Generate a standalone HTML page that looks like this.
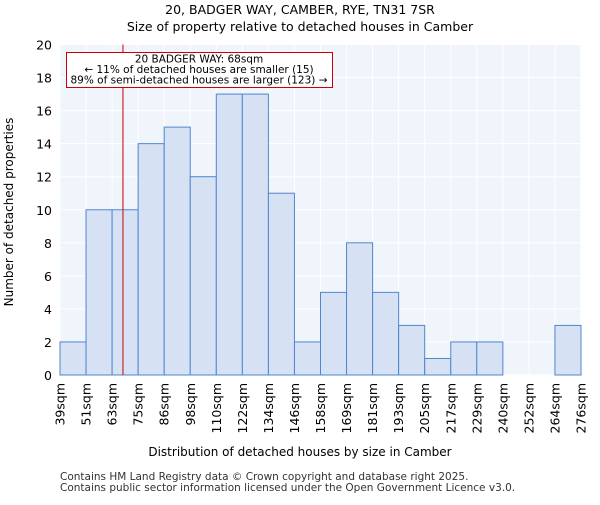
<!DOCTYPE html>
<html><head><meta charset="utf-8"><style>body{margin:0;background:#fff}svg text{font-family:"DejaVu Sans","Liberation Sans",sans-serif}</style></head>
<body>
<svg id="c" width="600" height="500" xmlns="http://www.w3.org/2000/svg">
<text x="300" y="14" font-size="12.5" text-anchor="middle">20, BADGER WAY, CAMBER, RYE, TN31 7SR</text>
<text x="300" y="31" font-size="12.5" text-anchor="middle">Size of property relative to detached houses in Camber</text>
<g id="grid"></g><g id="bars"></g><g id="axes"></g>
<text x="300" y="456" font-size="12" text-anchor="middle">Distribution of detached houses by size in Camber</text>
<text transform="translate(13,212) rotate(-90)" font-size="12" text-anchor="middle">Number of detached properties</text>
<text x="60" y="480" font-size="10.5" fill="#333">Contains HM Land Registry data © Crown copyright and database right 2025.</text>
<text x="60" y="491" font-size="10.5" fill="#333">Contains public sector information licensed under the Open Government Licence v3.0.</text>
</svg>
<script>
const categories=["39sqm","51sqm","63sqm","75sqm","86sqm","98sqm","110sqm","122sqm","134sqm","146sqm","158sqm","169sqm","181sqm","193sqm","205sqm","217sqm","229sqm","240sqm","252sqm","264sqm","276sqm"];
const counts=[2,10,10,14,15,12,17,17,11,2,5,8,5,3,1,2,2,0,0,3];
const yTicks=[0,2,4,6,8,10,12,14,16,18,20];
const markerValue=68;
const edgeValues=[39,51,63,75,86,98,110,122,134,146,158,169,181,193,205,217,229,240,252,264,276];
const NS="http://www.w3.org/2000/svg";
const L=60,R=581,T=44.5,B=375,bw=(R-L)/counts.length;
const y=v=>B-(B-T)*v/20;
const x=i=>L+i*bw;
function mk(t,a,p){const e=document.createElementNS(NS,t);for(const k in a)e.setAttribute(k,a[k]);p.appendChild(e);return e;}
const grid=document.getElementById('grid'),bars=document.getElementById('bars'),axes=document.getElementById('axes');
mk('rect',{x:L,y:T,width:R-L,height:B-T,fill:'#f0f4fb'},grid);
for(let i=0;i<=counts.length;i++){const g=mk('line',{x1:x(i),x2:x(i),y1:T,y2:B,stroke:'#fff','stroke-width':1},grid);}
yTicks.forEach(v=>{const g=mk('line',{x1:L,x2:R,y1:y(v),y2:y(v),stroke:'#fff'},grid);
const t=mk('text',{x:L-8,y:y(v)+5,'font-size':12.5,'text-anchor':'end'},axes);t.textContent=v;});
counts.forEach((c,i)=>{if(c<=0)return;const r=mk('rect',{x:x(i),y:y(c),width:bw,height:B-y(c),fill:'#d6e1f3',stroke:'#4f86cf','stroke-width':1},bars);});
categories.forEach((c,i)=>{const px=x(i);const t=mk('text',{transform:`translate(${px+4.5},${B+8}) rotate(-90)`,'font-size':12.5,'text-anchor':'end'},axes);t.textContent=c;});
let k=0;while(k<edgeValues.length-2&&edgeValues[k+1]<markerValue)k++;
const mx=x(k)+bw*(markerValue-edgeValues[k])/(edgeValues[k+1]-edgeValues[k]);
const ml=mk('line',{x1:mx,x2:mx,y1:T,y2:B,stroke:'#cc0000','stroke-width':1},axes);
const bx=mk('rect',{x:66.5,y:52.5,width:266,height:35,fill:'#fff',stroke:'#cc0000'},axes);
["20 BADGER WAY: 68sqm","← 11% of detached houses are smaller (15)","89% of semi-detached houses are larger (123) →"].forEach((s,i)=>{const t=mk('text',{x:199,y:62.5+i*10.5,'font-size':10.5,'text-anchor':'middle'},axes);t.textContent=s;});
</script>
</body></html>
